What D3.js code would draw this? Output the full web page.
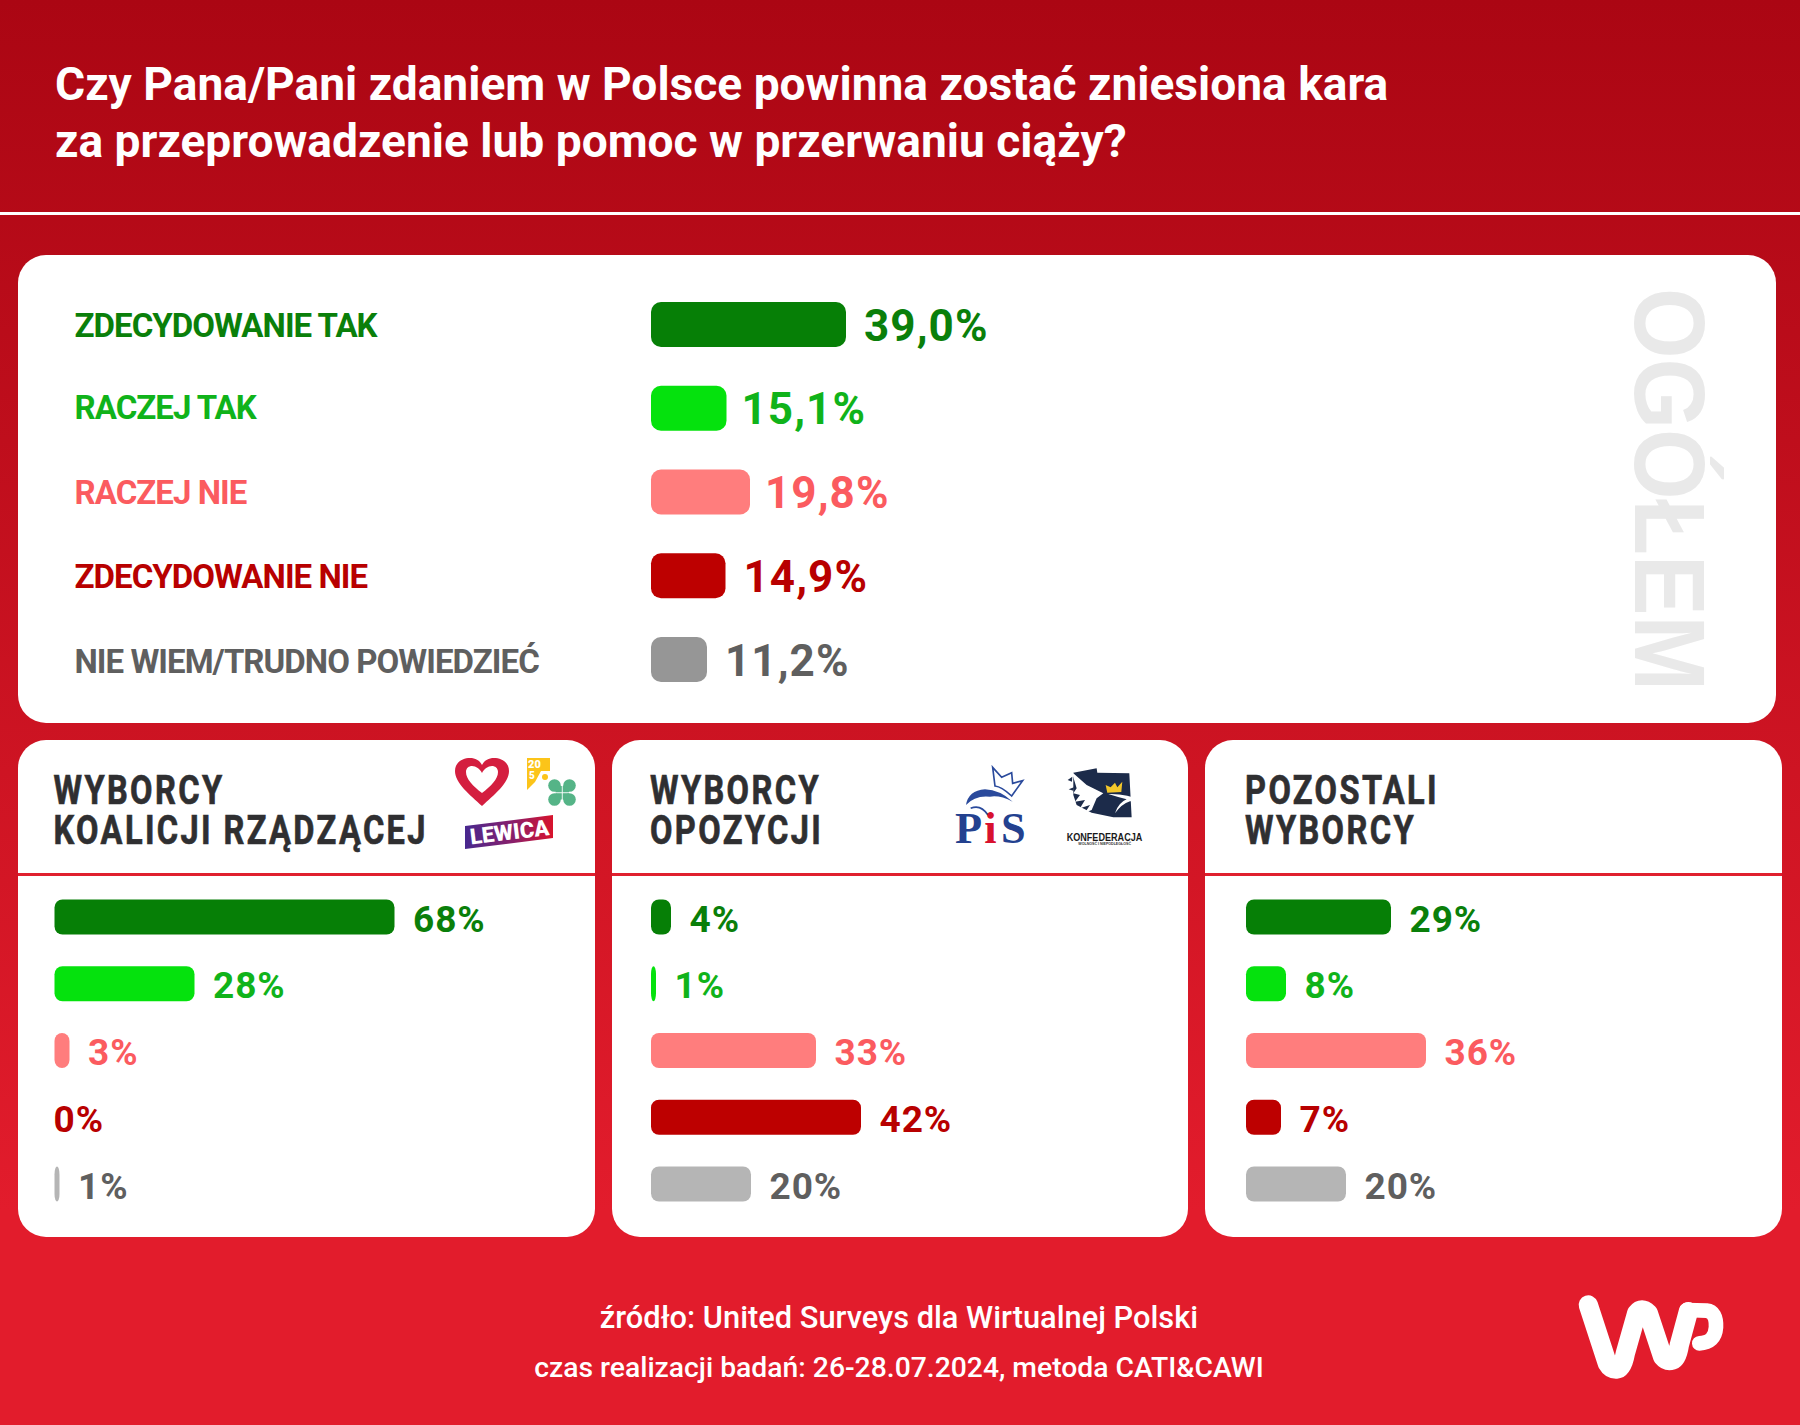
<!DOCTYPE html>
<html lang="pl">
<head>
<meta charset="utf-8">
<title>Sondaż United Surveys</title>
<script src="https://cdn.jsdelivr.net/npm/d3@7/dist/d3.min.js"></script>
<style>
  html, body { margin: 0; padding: 0; background: #c4101f; }
  svg { display: block; }
  text { font-family: Roboto, sans-serif; }
  .title { font-size: 46.1px; font-weight: 700; fill: #fff; }
  .lab { font-size: 33px; font-weight: 700; letter-spacing: -0.95px; }
  .val { font-size: 44px; font-weight: 700; letter-spacing: 1.1px; }
  .pval { font-size: 37px; font-weight: 700; letter-spacing: 0.9px; }
  .ptitle { font-size: 41px; font-weight: 700; fill: #2f2f31; stroke: #2f2f31; stroke-width: 0.7px; letter-spacing: 3px; }
  .foot { fill: #fff; font-weight: 500; }
</style>
</head>
<body>
<div id="chart"></div>
<script>
const titleLines = ['Czy Pana/Pani zdaniem w Polsce powinna zostać zniesiona kara', 'za przeprowadzenie lub pomoc w przerwaniu ciąży?'];
const categories = ['ZDECYDOWANIE TAK', 'RACZEJ TAK', 'RACZEJ NIE', 'ZDECYDOWANIE NIE', 'NIE WIEM/TRUDNO POWIEDZIEĆ'];
const overallValues = [39.0, 15.1, 19.8, 14.9, 11.2];
const coalitionValues = [68, 28, 3, 0, 1];
const oppositionValues = [4, 1, 33, 42, 20];
const otherValues = [29, 8, 36, 7, 20];
const coalitionTitle = ['WYBORCY', 'KOALICJI RZĄDZĄCEJ'];
const oppositionTitle = ['WYBORCY', 'OPOZYCJI'];
const otherTitle = ['POZOSTALI', 'WYBORCY'];
const sourceLines = ['źródło: United Surveys dla Wirtualnej Polski', 'czas realizacji badań: 26-28.07.2024, metoda CATI&CAWI'];
const barColors = ['#067f06', '#05e20d', '#ff7d7d', '#bd0000', '#969696'];
const panelBarColors = ['#067f06', '#05e20d', '#ff7d7d', '#bd0000', '#b5b5b5'];
const textColors = ['#0a7f0a', '#10b31a', '#fb5b5f', '#b80000', '#5f5f5f'];
const labelShift = [12, 10.5, 11.5, 12.5, 13];
const valueGap = [18, 15, 15, 18, 18];

const W = 1800;
const H = 1425;
const svg = d3.select('#chart').append('svg').attr('width', W).attr('height', H).attr('viewBox', `0 0 ${W} ${H}`);
const defs = svg.append('defs');

const bg = defs.append('linearGradient').attr('id', 'bg').attr('x1', 0).attr('y1', 0).attr('x2', 0).attr('y2', 1);
bg.append('stop').attr('offset', 0).attr('stop-color', '#ab0613');
bg.append('stop').attr('offset', 0.85).attr('stop-color', '#e21c2c');
bg.append('stop').attr('offset', 1).attr('stop-color', '#e21c2c');
const lew = defs.append('linearGradient').attr('id', 'lew');
lew.append('stop').attr('offset', 0).attr('stop-color', '#47288f');
lew.append('stop').attr('offset', 0.55).attr('stop-color', '#8a1f6a');
lew.append('stop').attr('offset', 1).attr('stop-color', '#d8132c');

svg.append('rect').attr('width', W).attr('height', H).attr('fill', 'url(#bg)');

// naglowek
svg.selectAll('.title').data(titleLines).join('text').attr('class', 'title')
  .attr('x', 55).attr('y', (d, i) => 100 + i * 57).text((d) => d);
svg.append('rect').attr('x', 0).attr('y', 212).attr('width', W).attr('height', 3).attr('fill', '#fff');

// 5 px na punkt procentowy
const x = d3.scaleLinear().domain([0, 100]).range([0, 500]);

// panel ogolem
svg.append('rect').attr('x', 18).attr('y', 255).attr('width', 1758).attr('height', 468).attr('rx', 28).attr('fill', '#fff');
const yTop = d3.scalePoint().domain(d3.range(categories.length)).range([324.5, 659.5]);

svg.selectAll('.lab').data(categories).join('text').attr('class', 'lab')
  .attr('x', 74.5).attr('y', (d, i) => yTop(i) + labelShift[i])
  .attr('fill', (d, i) => textColors[i]).text((d) => d);
svg.selectAll('.topbar').data(overallValues).join('rect').attr('class', 'topbar')
  .attr('x', 651).attr('y', (d, i) => yTop(i) - 22.5)
  .attr('width', (d) => x(d)).attr('height', 45).attr('rx', 10)
  .attr('fill', (d, i) => barColors[i]);
svg.selectAll('.val').data(overallValues).join('text').attr('class', 'val')
  .attr('x', (d, i) => 651 + x(d) + valueGap[i]).attr('y', (d, i) => yTop(i) + 16)
  .attr('fill', (d, i) => textColors[i])
  .text((d) => `${d.toFixed(1).replace('.', ',')}%`);

svg.append('text').text('OGÓŁEM')
  .attr('transform', 'translate(1635,288) rotate(90)')
  .attr('font-size', 100).attr('font-weight', 700).attr('fill', '#e9e9e9')
  .attr('textLength', 403).attr('lengthAdjust', 'spacingAndGlyphs')
  .style('font-family', '"Liberation Sans", sans-serif');

// trzy mniejsze panele
const yPanel = d3.scalePoint().domain(d3.range(categories.length)).range([917, 1184]);

function drawPanel(left, width, barX, titleRows, values) {
  const g = svg.append('g');
  g.append('rect').attr('x', left).attr('y', 740).attr('width', width).attr('height', 497).attr('rx', 28).attr('fill', '#fff');
  g.append('rect').attr('x', left).attr('y', 873).attr('width', width).attr('height', 3).attr('fill', '#e0202f');
  // naglowek zwezony, bo Roboto Condensed nie jest dostepne
  g.append('g').attr('transform', `translate(${barX - 1},0) scale(0.795,1)`)
    .selectAll('.ptitle').data(titleRows).join('text').attr('class', 'ptitle')
    .attr('x', 0).attr('y', (d, i) => 804 + i * 40).text((d) => d);
  const shown = values.map((v, i) => ({ v, i })).filter((d) => d.v > 0);
  g.selectAll('.pbar').data(shown).join('rect').attr('class', 'pbar')
    .attr('x', barX).attr('y', (d) => yPanel(d.i) - 17.5)
    .attr('width', (d) => x(d.v)).attr('height', 35).attr('rx', 8)
    .attr('fill', (d) => panelBarColors[d.i]);
  g.selectAll('.pval').data(values).join('text').attr('class', 'pval')
    .attr('x', (d) => barX + x(d) + (d > 0 ? 18.5 : -1)).attr('y', (d, i) => yPanel(i) + 14.5)
    .attr('fill', (d, i) => textColors[i]).text((d) => `${d}%`);
  return g;
}

drawPanel(18, 577, 54.5, coalitionTitle, coalitionValues);
drawPanel(612, 576, 651, oppositionTitle, oppositionValues);
drawPanel(1205, 577, 1246, otherTitle, otherValues);

// logotypy partii
const logos = svg.append('g');
logos.append('path')
  .attr('d', 'M482,806 C470,795 455,783 455,771 C455,762 463,758 470,758 C476,758 480,761 482,765 C484,761 488,758 494,758 C501,758 509,762 509,771 C509,783 494,795 482,806 Z')
  .attr('fill', '#d41e3f');
logos.append('path')
  .attr('d', 'M482,793 C473,786 466,779 466,772 C466,768 469,766 472,766 C476,766 480,769 482,773 C484,769 488,766 492,766 C495,766 498,768 498,772 C498,779 491,786 482,793 Z')
  .attr('fill', '#fff');
// Polska 2050
logos.append('path').attr('d', 'M527,758 L550,758 L550,771 L541,771 L535,782 L527,790 Z').attr('fill', '#fcc419');
logos.append('circle').attr('cx', 545).attr('cy', 777).attr('r', 3).attr('fill', '#fcc419');
logos.append('text').attr('x', 528).attr('y', 768).attr('font-size', 11).attr('font-weight', 900).attr('fill', '#fff').text('20');
logos.append('text').attr('x', 529).attr('y', 779).attr('font-size', 10).attr('font-weight', 900).attr('fill', '#fff').text('5');
// PSL
[[-1, -1], [1, -1], [-1, 1], [1, 1]].forEach((p) => {
  logos.append('circle').attr('cx', 562 + p[0] * 7.5).attr('cy', 792.5 + p[1] * 7).attr('r', 6.3).attr('fill', '#55b487');
  logos.append('rect').attr('x', p[0] < 0 ? 555.5 : 562.7).attr('y', p[1] < 0 ? 786 : 793.2).attr('width', 6.3).attr('height', 6.3).attr('fill', '#55b487');
});
logos.append('path').attr('d', 'M465,826 L553,815 L553,838 L465,849 Z').attr('fill', 'url(#lew)');
logos.append('text').text('LEWICA').attr('transform', 'translate(471,844.5) rotate(-7)')
  .attr('font-size', 22).attr('font-weight', 900).attr('fill', '#fff');

// PiS
const pis = logos.append('g').attr('transform', 'translate(900,730) scale(0.3333)');
pis.append('path').attr('d', 'M278,112 L305,142 L335,128 L338,160 L368,152 L335,198 Q305,170 285,168 Z')
  .attr('fill', 'none').attr('stroke', '#2a4a9c').attr('stroke-width', 5);
pis.append('path').attr('d', 'M198,225 Q205,182 255,178 Q300,180 338,215 Q300,195 270,200 Q225,195 198,225 Z').attr('fill', '#2a4a9c');
pis.append('path').attr('d', 'M212,235 Q242,222 264,255').attr('fill', 'none').attr('stroke', '#2a4a9c').attr('stroke-width', 5);
const pisLetters = [['P', 165, '#23418f'], ['i', 253, '#d8112e'], ['S', 303, '#23418f']];
pisLetters.forEach((l) => {
  pis.append('text').attr('x', l[1]).attr('y', 338).attr('font-size', 133).attr('font-weight', 700)
    .attr('fill', l[2]).style('font-family', '"Liberation Serif", serif').text(l[0]);
});

// Konfederacja
const konf = logos.append('g').attr('transform', 'translate(900,730) scale(0.3333)');
konf.append('path').attr('d', 'M520,128 L590,115 L592,128 L688,130 L695,262 L640,262 L575,248 L530,225 L520,195 Z').attr('fill', '#1c2b4a');
konf.append('path').attr('d', 'M503,150 L517,140 L516,155 Z M506,178 L522,172 L520,182 Z').attr('fill', '#1c2b4a');
konf.append('path').attr('d', 'M515,125 L560,165 L610,190 L590,205 L575,240 L555,248 L570,225 L540,235 L555,210 L525,215 L540,195 L520,190 L530,175 Z').attr('fill', '#fff');
konf.append('path').attr('d', 'M625,192 Q680,190 725,212 L690,214 Q665,222 645,250 Q655,218 680,208 Q650,200 625,192 Z').attr('fill', '#fff');
konf.append('path').attr('d', 'M617,165 L632,172 L645,158 L652,172 L667,155 L664,186 L622,188 Z').attr('fill', '#f3c72b');
konf.append('text').attr('x', 500).attr('y', 332).attr('font-size', 31).attr('font-weight', 700).attr('fill', '#1a1a1a')
  .style('font-family', '"Liberation Sans", sans-serif').attr('textLength', 227).attr('lengthAdjust', 'spacingAndGlyphs').text('KONFEDERACJA');
konf.append('text').attr('x', 535).attr('y', 346).attr('font-size', 10).attr('font-weight', 700).attr('fill', '#333')
  .style('font-family', '"Liberation Sans", sans-serif').attr('textLength', 158).attr('lengthAdjust', 'spacingAndGlyphs').text('WOLNOŚĆ I NIEPODLEGŁOŚĆ');

// stopka
svg.selectAll('.foot').data(sourceLines).join('text').attr('class', 'foot')
  .attr('x', 899).attr('text-anchor', 'middle').attr('y', (d, i) => (i === 0 ? 1328 : 1377))
  .attr('font-size', (d, i) => (i === 0 ? 30.8 : 28.3)).text((d) => d);

// logo WP
const wp = svg.append('g').attr('transform', 'translate(1520,1270) scale(0.3333)')
  .attr('fill', 'none').attr('stroke', '#fff').attr('stroke-linecap', 'round').attr('stroke-linejoin', 'round');
wp.append('path').attr('d', 'M205,105 L262,280 Q272,298 290,297 Q308,296 316,250 L350,130 Q365,110 385,130 L428,260 Q440,275 458,270 Q472,265 478,225 L505,125').attr('stroke-width', 58);
wp.append('path').attr('d', 'M500,120 L560,122 Q590,125 588,172 Q585,218 538,220').attr('stroke-width', 44);
</script>
</body>
</html>
